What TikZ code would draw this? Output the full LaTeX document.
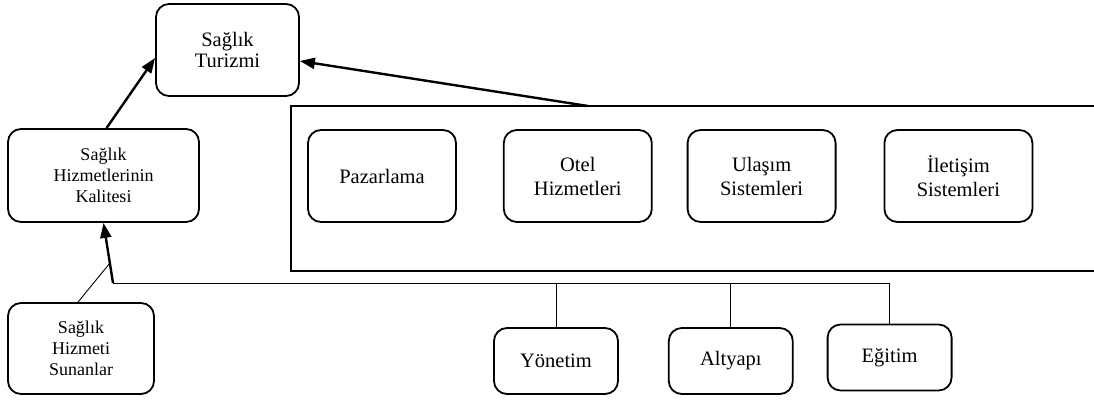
\documentclass[tikz,border=0pt]{standalone}
\usepackage{fontspec}
\setmainfont{Liberation Serif}
\usetikzlibrary{arrows.meta, positioning}
\newcommand{\bigtext}{\fontsize{20.5}{24}\selectfont}
\newcommand{\smalltext}{\fontsize{18}{21}\selectfont}
\tikzset{%
  >={Triangle[width=11pt,length=15pt]},
  % Specifications for style of nodes:
    base/.style = {rectangle, rounded corners=13pt, draw=black, line width=1.8pt,
                   align=center, inner sep=2pt},
    factor/.style = {base, minimum width=148pt, minimum height=92pt, font=\bigtext},
    sector/.style = {base, minimum width=124pt, minimum height=66pt, font=\bigtext},
    health/.style = {base, font=\smalltext},
    bold/.style = {->, line width=2.4pt},
    thin/.style = {line width=0.9pt},
}

\begin{document}
\begin{tikzpicture}[x=1pt, y=-1pt]
  \useasboundingbox (0,0) rectangle (1094,401);

  \node (turizm)      [factor, minimum width=143pt] at (227.5,50) {Sağlık\\[-3pt]Turizmi};
  \node (kalite)      [health, minimum width=191pt, minimum height=93pt] at (103.5,175.5)
                                                                {Sağlık\\Hizmetlerinin\\Kalitesi};
  \node (sunan)       [health, minimum width=146pt, minimum height=91pt] at (81,348.5)
                                                                {Sağlık\\Hizmeti\\Sunanlar};

  \node (pazar)       [factor] at (382,176)                     {Pazarlama};
  \node (otel)        [factor, right=46pt of pazar]             {Otel\\Hizmetleri};
  \node (ulasim)      [factor, right=34pt of otel]              {Ulaşım\\Sistemleri};
  \node (iletisim)    [factor, right=47pt of ulasim]            {İletişim\\Sistemleri};

  \node (yonetim)     [sector] at (556,361)                     {Yönetim};
  \node (altyapi)     [sector, right=49pt of yonetim]           {Altyapı};
  \node (egitim)      [sector, right=33pt of altyapi, yshift=3.5pt] {Eğitim};

  \coordinate (panelTop) at (588,106);
  \coordinate (panelNE) at (1094,106);
  \coordinate (panelNW) at (291,106);
  \coordinate (panelSW) at (291,271);
  \coordinate (panelSE) at (1094,271);
  \coordinate (junc) at (113,283);

  % Frame round the factors
  \draw[line width=1.2pt] (panelNE) -- (panelNW) -- (panelSW) -- (panelSE);

  % Specification of lines between nodes
  \draw[bold]     ([xshift=3pt]kalite.north) -- ([yshift=-8pt]turizm.west);
  \draw[bold]     (panelTop) -- ([yshift=-11pt]turizm.east);
  \draw[bold]     (junc) -- (kalite.south);
  \path           (junc) -- (kalite.south) coordinate[pos=0.33] (juncMid);
  \draw[thin]     ([xshift=-3pt]sunan.north) -- (juncMid);
  \draw[thin]     (junc) -| (yonetim.north);
  \draw[thin]     (junc) -| (altyapi.north);
  \draw[thin]     (junc) -| (egitim.north);
\end{tikzpicture}
\end{document}
